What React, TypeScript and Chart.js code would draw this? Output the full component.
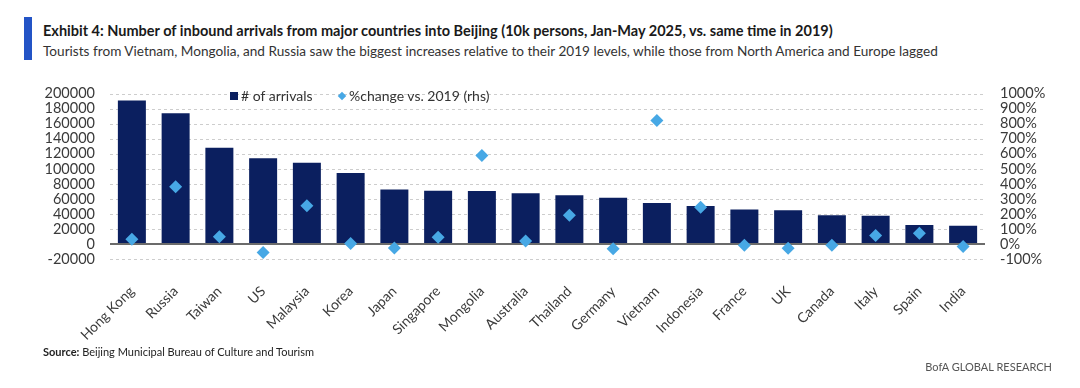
import React, { useEffect, useRef } from 'react';
import { Chart, registerables } from 'chart.js';

Chart.register(...registerables);

const categories = ['Hong Kong', 'Russia', 'Taiwan', 'US', 'Malaysia', 'Korea', 'Japan', 'Singapore', 'Mongolia', 'Australia', 'Thailand', 'Germany', 'Vietnam', 'Indonesia', 'France', 'UK', 'Canada', 'Italy', 'Spain', 'India'];
const arrivals = [191000, 174000, 128000, 114000, 108000, 94500, 72500, 70800, 70600, 67500, 65000, 61600, 54500, 50400, 45800, 45000, 38300, 37500, 25400, 24100];
const pctChange = [31, 381, 48, -56, 254, 3, -27, 44, 588, 19, 191, -31, 822, 244, -8, -29, -8, 56, 71, -17];
const leftAxis = { min: -20000, max: 200000, step: 20000 };
const rightAxis = { min: -100, max: 1000, step: 100 };

const title = 'Exhibit 4: Number of inbound arrivals from major countries into Beijing (10k persons, Jan-May 2025, vs. same time in 2019)';
const subtitle = 'Tourists from Vietnam, Mongolia, and Russia saw the biggest increases relative to their 2019 levels, while those from North America and Europe lagged';
const legendBar = '# of arrivals';
const legendPoint = '%change vs. 2019 (rhs)';

const NAVY = '#0b1f5f';
const LIGHT = '#47a8e5';
const FONT = 'Lato, "Open Sans", sans-serif';

const gridPlugin = {
  id: 'customGrid',
  beforeDatasetsDraw(chart: any) {
    const { ctx, chartArea, scales } = chart;
    const y = scales.y;
    ctx.save();
    ctx.strokeStyle = '#cdcdcd';
    ctx.lineWidth = 1;
    ctx.setLineDash([3, 3]);
    y.ticks.forEach((t: any) => {
      if (t.value === 0) return;
      const py = Math.round(y.getPixelForValue(t.value)) + 0.5;
      ctx.beginPath();
      ctx.moveTo(chartArea.left, py);
      ctx.lineTo(chartArea.right, py);
      ctx.stroke();
    });
    ctx.restore();
  },
  afterDatasetDraw(chart: any, args: any) {
    if (args.index !== 1) return;
    const { ctx, chartArea, scales } = chart;
    const py = Math.round(scales.y.getPixelForValue(0));
    ctx.save();
    ctx.strokeStyle = '#6b6b6b';
    ctx.lineWidth = 2;
    ctx.beginPath();
    ctx.moveTo(chartArea.left, py);
    ctx.lineTo(chartArea.right, py);
    ctx.stroke();
    ctx.restore();
  },
};

export default function App() {
  const canvasRef = useRef<HTMLCanvasElement | null>(null);

  useEffect(() => {
    document.body.style.margin = '0';
    const canvas = canvasRef.current;
    if (!canvas) return;
    const axisFont = { family: FONT, size: 14.5 };
    const chart = new Chart(canvas, {
      type: 'bar',
      data: {
        labels: categories,
        datasets: [
          {
            type: 'line',
            label: legendPoint,
            data: pctChange,
            yAxisID: 'y1',
            showLine: false,
            pointStyle: 'rectRot',
            pointRadius: 6.5,
            pointBackgroundColor: LIGHT,
            pointBorderWidth: 0,
            order: 0,
          } as any,
          {
            type: 'bar',
            label: legendBar,
            data: arrivals,
            yAxisID: 'y',
            backgroundColor: NAVY,
            barPercentage: 0.64,
            categoryPercentage: 1,
            order: 1,
          },
        ],
      },
      options: {
        animation: false,
        responsive: false,
        maintainAspectRatio: false,
        layout: { padding: { top: 13, left: 0, right: 0, bottom: 0 } },
        plugins: { legend: { display: false }, tooltip: { enabled: false } },
        scales: {
          x: {
            grid: { display: false },
            border: { display: false },
            ticks: {
              autoSkip: false,
              maxRotation: 45,
              minRotation: 45,
              color: '#3a3a3a',
              font: { family: FONT, size: 14 },
              padding: 16,
            },
            afterFit: (s: any) => { s.height = 111; },
          },
          y: {
            position: 'left',
            min: leftAxis.min,
            max: leftAxis.max,
            ticks: {
              autoSkip: false,
              stepSize: leftAxis.step,
              color: '#3a3a3a',
              font: axisFont,
              padding: 15,
              callback: (v: any) => String(v),
            },
            grid: { display: false, drawTicks: false },
            border: { display: false },
            afterFit: (s: any) => { s.width = 110; },
          },
          y1: {
            position: 'right',
            min: rightAxis.min,
            max: rightAxis.max,
            ticks: {
              autoSkip: false,
              stepSize: rightAxis.step,
              color: '#3a3a3a',
              font: axisFont,
              padding: 15,
              callback: (v: any) => `${v}%`,
            },
            grid: { display: false, drawTicks: false },
            border: { display: false },
            afterFit: (s: any) => { s.width = 95; },
          },
        },
      },
      plugins: [gridPlugin],
    });
    return () => chart.destroy();
  }, []);

  return (
    <div style={{ position: 'relative', width: 1080, height: 388, background: '#fff', fontFamily: FONT, overflow: 'hidden' }}>
      <div style={{ position: 'absolute', left: 24, top: 17, width: 8, height: 43, background: '#2354c6' }} />
      <div style={{ position: 'absolute', left: 43, top: 21, fontSize: 14.5, fontWeight: 700, color: '#1a1a1a', whiteSpace: 'nowrap', lineHeight: '20px' }}>{title}</div>
      <div style={{ position: 'absolute', left: 43, top: 41, fontSize: 13.6, color: '#333', whiteSpace: 'nowrap', lineHeight: '20px' }}>{subtitle}</div>
      <canvas ref={canvasRef} width={1080} height={300} style={{ position: 'absolute', left: 0, top: 70, width: 1080, height: 300 }} />
      <div style={{ position: 'absolute', left: 230, top: 92, width: 8, height: 8, background: NAVY }} />
      <div style={{ position: 'absolute', left: 241, top: 86, fontSize: 14, color: '#333', lineHeight: '20px', whiteSpace: 'nowrap' }}>{legendBar}</div>
      <div style={{ position: 'absolute', left: 339, top: 93, width: 6, height: 6, background: LIGHT, transform: 'rotate(45deg)' }} />
      <div style={{ position: 'absolute', left: 349, top: 86, fontSize: 14, color: '#333', lineHeight: '20px', whiteSpace: 'nowrap' }}>{legendPoint}</div>
      <div style={{ position: 'absolute', left: 43, top: 345, fontSize: 11, color: '#222', whiteSpace: 'nowrap', lineHeight: '14px' }}>
        <b>Source:</b> Beijing Municipal Bureau of Culture and Tourism
      </div>
      <div style={{ position: 'absolute', right: 28, top: 360, fontSize: 11, color: '#555', whiteSpace: 'nowrap', lineHeight: '14px' }}>BofA GLOBAL RESEARCH</div>
    </div>
  );
}
